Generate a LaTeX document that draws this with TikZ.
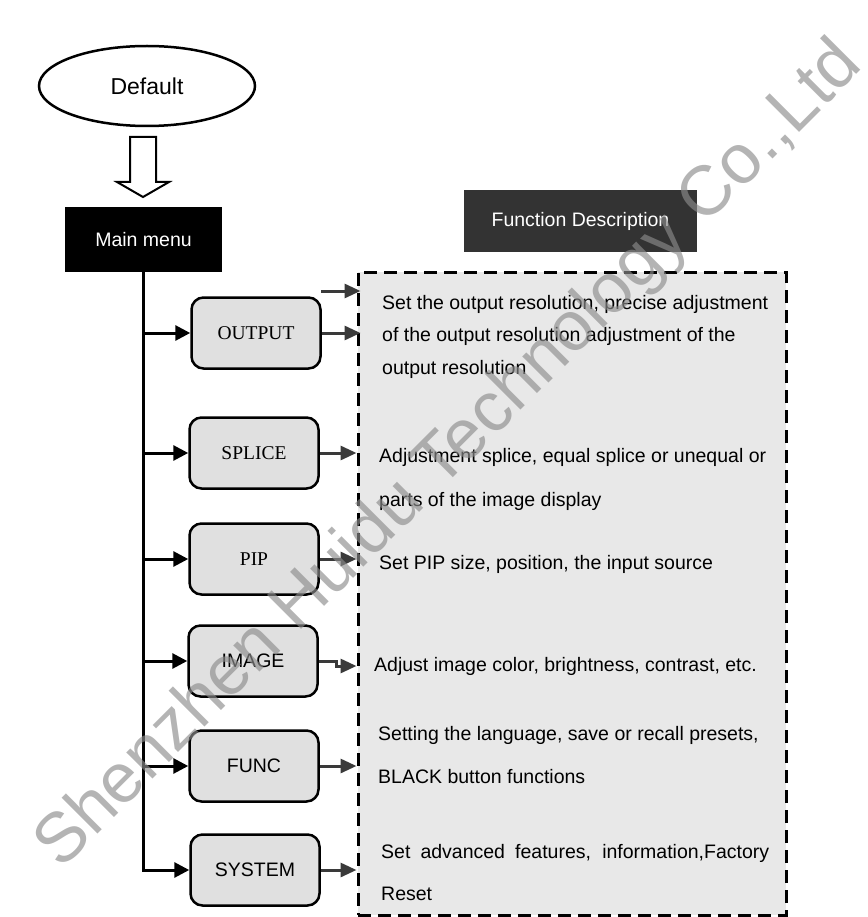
\documentclass[tikz,border=0pt]{standalone}
\usepackage{fontspec}
\setmainfont{Liberation Sans}
\newfontfamily\serifface{Liberation Serif}
\usetikzlibrary{arrows.meta,shapes.geometric}
\definecolor{boxgray}{HTML}{E0E0E0}
\definecolor{panelgray}{HTML}{E8E8E8}
\definecolor{darkhead}{HTML}{333333}
\definecolor{arrowgray}{HTML}{3A3A3A}
\definecolor{wmgray}{HTML}{8C8C8C}
\begin{document}
\begin{tikzpicture}[x=1pt,y=-1pt,
  menubox/.style={draw=black, line width=2.5pt, fill=boxgray, rounded corners=12pt,
    minimum width=129pt, minimum height=71pt, inner sep=0pt,
    font=\fontsize{19.5}{23}\selectfont},
  serifbox/.style={menubox, font=\serifface\fontsize{19.5}{23}\selectfont},
  feed/.style={line width=3pt, -{Triangle[length=15pt,width=15pt]}},
  outfeed/.style={color=arrowgray, line width=3pt, -{Triangle[length=16pt,width=14pt]}},
  desc/.style={anchor=base west, inner sep=0pt, font=\fontsize{19.5}{23}\selectfont}
]
\useasboundingbox (0,0) rectangle (867,917);

% panel and header
\node[draw=black, line width=3pt, dash pattern=on 13pt off 7pt, fill=panelgray,
  minimum width=428pt, minimum height=643pt, inner sep=0pt] (panel) at (572,593.5) {};
\node[fill=darkhead, text=white, minimum width=233pt, minimum height=62pt, inner sep=0pt,
  font=\fontsize{19.5}{23}\selectfont] (head) at (580.5,221) {Function Description};

% default + main menu
\node[ellipse, draw=black, line width=2.5pt, fill=white, minimum width=216pt, minimum height=80pt,
  inner sep=0pt, font=\fontsize{23}{27}\selectfont] (default) at (147,86) {Default};
\draw[line width=2pt, fill=white] (130,137) -- (156,137) -- (156,182) -- (169,182) -- (143,197)
  -- (117,182) -- (130,182) -- cycle;
\node[fill=black, text=white, minimum width=157pt, minimum height=65pt, inner sep=0pt,
  font=\fontsize{19.5}{23}\selectfont] (mainmenu) at (143.5,239.5) {Main menu};

% menu boxes
\node[serifbox] (output) at (256,333) {OUTPUT};
\node[serifbox] (splice) at (254,453) {SPLICE};
\node[serifbox] (pip) at (254,559) {PIP};
\node[menubox] (image) at (253,661) {IMAGE};
\node[menubox] (func) at (254,766) {FUNC};
\node[menubox] (system) at (255,870) {SYSTEM};

% trunk and feeds
\draw[feed] (mainmenu.south) |- (system.west);
\draw[feed] (mainmenu.south |- output.west) -- (output.west);
\draw[feed] (mainmenu.south |- splice.west) -- (splice.west);
\draw[feed] (mainmenu.south |- pip.west) -- (pip.west);
\draw[feed] (mainmenu.south |- image.west) -- (image.west);
\draw[feed] (mainmenu.south |- func.west) -- (func.west);

% outputs to panel
\coordinate (stray) at (321,291);
\draw[outfeed] (stray) -- ([xshift=4pt]stray -| panel.west);
\draw[outfeed] (output.east) -- ([xshift=4pt]output.east -| panel.west);
\draw[outfeed] (splice.east) -- (splice.east -| panel.west);
\draw[outfeed] (pip.east) -- (pip.east -| panel.west);
\draw[outfeed] (image.east) -- ++(18,0) -- ++(0,5) -- ([yshift=-5pt]image.east -| panel.west);
\draw[outfeed] (func.east) -- (func.east -| panel.west);
\draw[outfeed] (system.east) -- (system.east -| panel.west);

% descriptions
\node[desc] (d1) at (382,309) {Set the output resolution, precise adjustment};
\node[desc] (d2) at (382,341) {of the output resolution adjustment of the};
\node[desc] (d3) at (382,374) {output resolution};
\node[desc] (d4) at (379,462) {Adjustment splice, equal splice or unequal or};
\node[desc] (d5) at (379,506) {parts of the image display};
\node[desc] (d6) at (379,569) {Set PIP size, position, the input source};
\node[desc] (d7) at (374,671) {Adjust image color, brightness, contrast, etc.};
\node[desc] (d8) at (378,740) {Setting the language, save or recall presets,};
\node[desc] (d9) at (378,783) {BLACK button functions};
\node[desc] (d10) at (381,858) {\makebox[388pt][s]{Set advanced features, information,Factory}};
\node[desc] (d11) at (381,900) {Reset};

% watermark
\node[rotate=45, text=wmgray, opacity=0.65, inner sep=0pt,
  font=\fontsize{70}{78}\selectfont] (wm) at (450,456) {Shenzhen Huidu Technology Co.,Ltd};
\end{tikzpicture}
\end{document}
